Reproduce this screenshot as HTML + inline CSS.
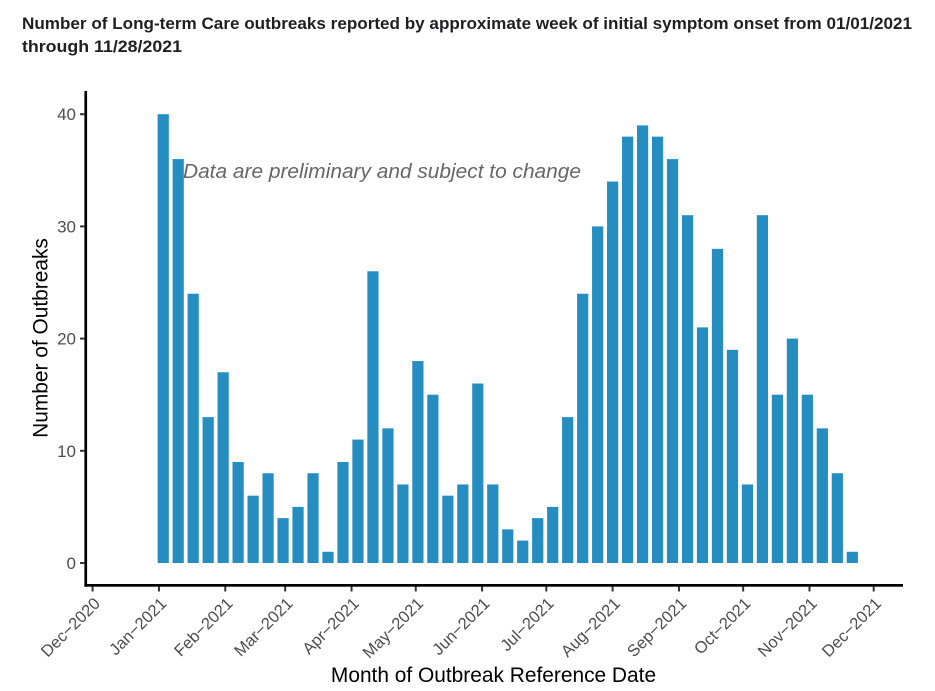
<!DOCTYPE html>
<html>
<head>
<meta charset="utf-8">
<title>Long-term Care outbreaks</title>
<style>
html,body{margin:0;padding:0;background:#fff;}
svg{display:block;font-family:"Liberation Sans",Arial,sans-serif;}
</style>
</head>
<body>
<svg id="chart" width="935" height="691" viewBox="0 0 935 691" xmlns="http://www.w3.org/2000/svg">
  <text x="22" y="29" font-size="16.5" font-weight="700" fill="#1f1f24" textLength="890" lengthAdjust="spacingAndGlyphs">Number of Long-term Care outbreaks reported by approximate week of initial symptom onset from 01/01/2021</text>
  <text x="22" y="52" font-size="16.5" font-weight="700" fill="#1f1f24" textLength="160" lengthAdjust="spacingAndGlyphs">through 11/28/2021</text>
  <g id="bars"></g>
  <g id="yaxis"></g>
  <g id="xaxis"></g>
  <text x="183" y="178" font-size="20.5" font-style="italic" fill="#666666" textLength="398" lengthAdjust="spacingAndGlyphs">Data are preliminary and subject to change</text>
  <text transform="translate(47.5,338) rotate(-90)" text-anchor="middle" font-size="20.9" fill="#000">Number of Outbreaks</text>
  <text x="493.5" y="682" text-anchor="middle" font-size="20.9" fill="#000">Month of Outbreak Reference Date</text>
</svg>
<script>
const weekStarts = ["2021-01-03","2021-01-10","2021-01-17","2021-01-24","2021-01-31","2021-02-07","2021-02-14","2021-02-21","2021-02-28","2021-03-07","2021-03-14","2021-03-21","2021-03-28","2021-04-04","2021-04-11","2021-04-18","2021-04-25","2021-05-02","2021-05-09","2021-05-16","2021-05-23","2021-05-30","2021-06-06","2021-06-13","2021-06-20","2021-06-27","2021-07-04","2021-07-11","2021-07-18","2021-07-25","2021-08-01","2021-08-08","2021-08-15","2021-08-22","2021-08-29","2021-09-05","2021-09-12","2021-09-19","2021-09-26","2021-10-03","2021-10-10","2021-10-17","2021-10-24","2021-10-31","2021-11-07","2021-11-14","2021-11-21"];
const outbreaks = [40,36,24,13,17,9,6,8,4,5,8,1,9,11,26,12,7,18,15,6,7,16,7,3,2,4,5,13,24,30,34,38,39,38,36,31,21,28,19,7,31,15,20,15,12,8,1];
const yTicks = [0,10,20,30,40];
const monthTicks = ["2020-12-01","2021-01-01","2021-02-01","2021-03-01","2021-04-01","2021-05-01","2021-06-01","2021-07-01","2021-08-01","2021-09-01","2021-10-01","2021-11-01","2021-12-01"];
const monthLabels = ["Dec-2020","Jan-2021","Feb-2021","Mar-2021","Apr-2021","May-2021","Jun-2021","Jul-2021","Aug-2021","Sep-2021","Oct-2021","Nov-2021","Dec-2021"];

const NS = "http://www.w3.org/2000/svg";
const DAY = 86400000;
const origin = Date.UTC(2020, 11, 1);
function xScale(iso) { return 92.6 + 2.14 * (Date.parse(iso + "T00:00:00Z") - origin) / DAY; }
function yScale(v) { return 563 - 11.22 * v; }
function make(tag, attrs, parent) {
  const el = document.createElementNS(NS, tag);
  for (const k in attrs) el.setAttribute(k, attrs[k]);
  parent.appendChild(el);
  return el;
}

const barsG = document.getElementById("bars");
outbreaks.forEach(function (v, i) {
  const cx = xScale(weekStarts[i]);
  const r = make("rect", {x: cx - 5.6, y: yScale(v), width: 11.2, height: yScale(0) - yScale(v), fill: "#258dc0"}, barsG);
  
  
});

const yG = document.getElementById("yaxis");
const yLine = make("rect", {x: 84.4, y: 91, width: 2.7, height: 495.7, fill: "#000"}, yG);


yTicks.forEach(function (t) {
  const y = yScale(t);
  const tick = make("rect", {x: 80, y: y - 1, width: 5, height: 2, fill: "#333"}, yG);
  
  
  const lab = make("text", {x: 76, y: y + 6, "text-anchor": "end", "font-size": 17, fill: "#4d4d4d"}, yG);
  
  
  lab.textContent = t;
});

const xG = document.getElementById("xaxis");
const xLine = make("rect", {x: 84.4, y: 584, width: 818.6, height: 2.7, fill: "#000"}, xG);


monthTicks.forEach(function (d, i) {
  const x = xScale(d);
  const tick = make("rect", {x: x - 1, y: 586.5, width: 2, height: 5, fill: "#333"}, xG);
  
  
  const lab = make("text", {transform: "translate(" + (x + 8.5) + ",604.5) rotate(-45)", "text-anchor": "end", "font-size": 16.5, fill: "#4d4d4d"}, xG);
  
  
  lab.textContent = monthLabels[i].replace("-", "\u2212");
});
</script>
</body>
</html>
